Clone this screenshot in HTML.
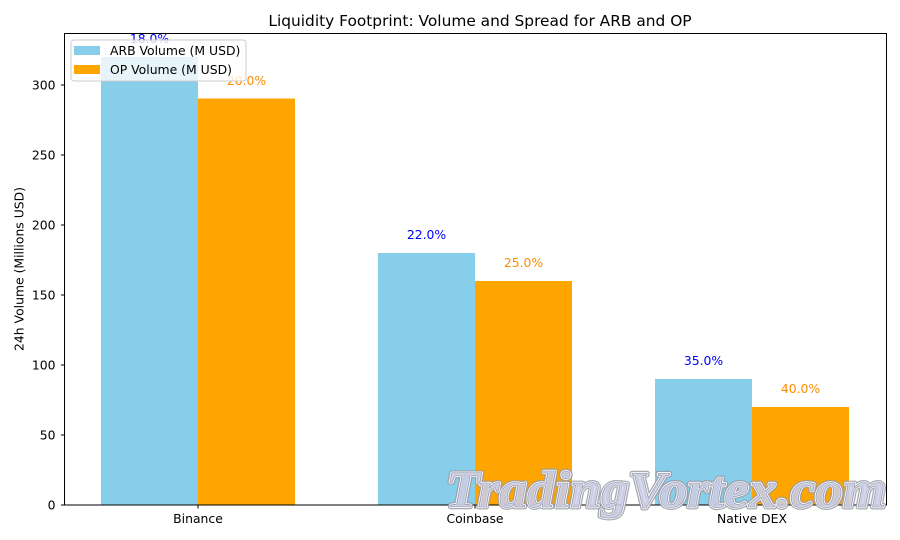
<!DOCTYPE html>
<html>
<head>
<meta charset="utf-8">
<style>
html,body{margin:0;padding:0;background:#fff;}
svg{display:block;}
.t{font-family:"DejaVu Sans","Liberation Sans",sans-serif;}
.wm{font-family:"Liberation Serif","DejaVu Serif",serif;font-style:italic;font-weight:bold;}
</style>
</head>
<body>
<svg width="900" height="540" viewBox="0 0 900 540" xmlns="http://www.w3.org/2000/svg">
<rect x="0" y="0" width="900" height="540" fill="#fff"/>
<!-- title -->
<text class="t" x="480" y="26" font-size="15.4" text-anchor="middle" fill="#000">Liquidity Footprint: Volume and Spread for ARB and OP</text>

<!-- bars -->
<g>
<rect x="101" y="57" width="97" height="448" fill="#87ceeb"/>
<rect x="198" y="98.5" width="97" height="406.5" fill="#ffa500"/>
<rect x="378" y="253" width="97" height="252" fill="#87ceeb"/>
<rect x="475" y="281" width="97" height="224" fill="#ffa500"/>
<rect x="655" y="379" width="97" height="126" fill="#87ceeb"/>
<rect x="752" y="407" width="97" height="98" fill="#ffa500"/>
</g>

<!-- value labels -->
<g class="t" font-size="12.4" text-anchor="middle">
<text x="149.5" y="43" fill="#0000ff">18.0%</text>
<text x="246.5" y="85" fill="#ff8c00">20.0%</text>
<text x="426.5" y="239" fill="#0000ff">22.0%</text>
<text x="523.5" y="267" fill="#ff8c00">25.0%</text>
<text x="703.5" y="365" fill="#0000ff">35.0%</text>
<text x="800.5" y="393" fill="#ff8c00">40.0%</text>
</g>

<!-- axes frame -->
<rect x="64.5" y="33.5" width="822" height="471.5" fill="none" stroke="#000" stroke-width="1"/>

<!-- ticks -->
<g stroke="#000" stroke-width="1">
<line x1="61" y1="505" x2="64.5" y2="505"/>
<line x1="61" y1="435" x2="64.5" y2="435"/>
<line x1="61" y1="365" x2="64.5" y2="365"/>
<line x1="61" y1="295" x2="64.5" y2="295"/>
<line x1="61" y1="225" x2="64.5" y2="225"/>
<line x1="61" y1="155" x2="64.5" y2="155"/>
<line x1="61" y1="85" x2="64.5" y2="85"/>
<line x1="198" y1="505" x2="198" y2="508.5"/>
<line x1="475" y1="505" x2="475" y2="508.5"/>
<line x1="752" y1="505" x2="752" y2="508.5"/>
</g>
<g class="t" font-size="12.4" text-anchor="end" fill="#000">
<text x="55.5" y="509.5">0</text>
<text x="55.5" y="439.5">50</text>
<text x="55.5" y="369.5">100</text>
<text x="55.5" y="299.5">150</text>
<text x="55.5" y="229.5">200</text>
<text x="55.5" y="159.5">250</text>
<text x="55.5" y="89.5">300</text>
</g>
<g class="t" font-size="12.4" text-anchor="middle" fill="#000">
<text x="198" y="523">Binance</text>
<text x="475" y="523">Coinbase</text>
<text x="752" y="523">Native DEX</text>
</g>
<text class="t" transform="translate(23.5,269) rotate(-90)" font-size="12.4" text-anchor="middle" fill="#000">24h Volume (Millions USD)</text>

<!-- legend -->
<rect x="71" y="40" width="175" height="41" rx="3" ry="3" fill="#fff" fill-opacity="0.8" stroke="#cccccc" stroke-width="1"/>
<rect x="74" y="46" width="26" height="9" fill="#87ceeb"/>
<rect x="74" y="65" width="26" height="9" fill="#ffa500"/>
<g class="t" font-size="12.4" fill="#000">
<text x="110" y="55">ARB Volume (M USD)</text>
<text x="110" y="74">OP Volume (M USD)</text>
</g>

<!-- watermark (layered outline) -->
<g class="wm" font-size="52">
<text x="446" y="507" textLength="440" lengthAdjust="spacingAndGlyphs" fill="none" stroke="#9a9aa6" stroke-width="5" stroke-linejoin="round" stroke-opacity="0.85">TradingVortex.com</text>
<text x="446" y="507" textLength="440" lengthAdjust="spacingAndGlyphs" fill="none" stroke="#f4f4f8" stroke-width="2.6" stroke-linejoin="round">TradingVortex.com</text>
<text x="446" y="507" textLength="440" lengthAdjust="spacingAndGlyphs" fill="#cdd1ea" fill-opacity="0.8" stroke="#8d8d9a" stroke-width="0.6">TradingVortex.com</text>
</g>
</svg>
</body>
</html>
